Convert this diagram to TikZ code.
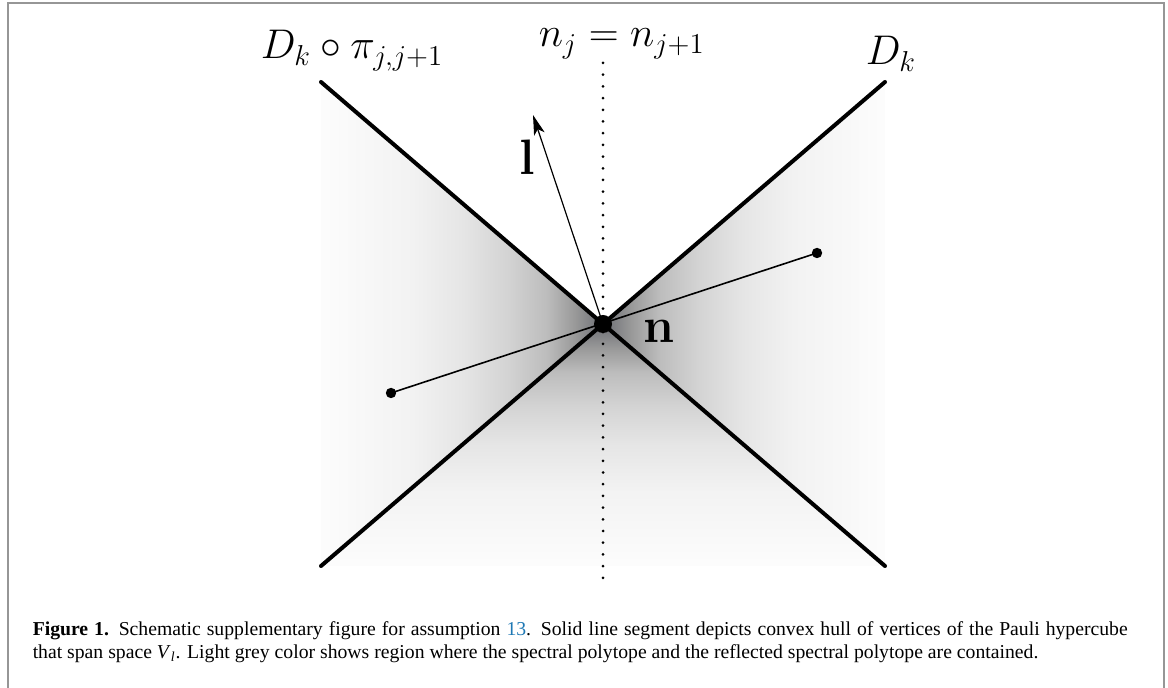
\documentclass[tikz,border=0pt]{standalone}
\usepackage[no-math]{fontspec}
\usetikzlibrary{arrows.meta}
\newfontfamily\capfont{Liberation Serif}

\definecolor{shadecore}{RGB}{108,110,116}
\definecolor{framegrey}{RGB}{150,150,150}
\definecolor{reflink}{RGB}{30,120,180}

% grey fading away from the vertex
\pgfdeclarehorizontalshading{wedgeleft}{100bp}{color(0bp)=(black!1); color(25bp)=(black!1);
  color(41bp)=(black!5); color(50bp)=(black!10); color(58bp)=(black!17);
  color(65bp)=(black!26); color(70bp)=(black!40);
  color(75bp)=(shadecore); color(100bp)=(shadecore)}
\pgfdeclarehorizontalshading{wedgeright}{100bp}{color(0bp)=(shadecore); color(25bp)=(shadecore);
  color(30bp)=(black!40); color(35bp)=(black!26); color(42bp)=(black!17);
  color(50bp)=(black!10); color(59bp)=(black!5);
  color(75bp)=(black!1); color(100bp)=(black!1)}
\pgfdeclareverticalshading{wedgebottom}{100bp}{color(0bp)=(black!1); color(25bp)=(black!1);
  color(41bp)=(black!5); color(50bp)=(black!10); color(58bp)=(black!17);
  color(65bp)=(black!26); color(70bp)=(black!40);
  color(75bp)=(shadecore); color(100bp)=(shadecore)}

\tikzset{
  every picture/.style={line width=0.75pt},
  bigmath/.style={inner sep=0pt, font=\fontsize{21}{25}\selectfont},
  xline/.style={line width=2pt, line cap=round},
  hull/.style={line width=0.8pt},
}

\begin{document}
\begin{tikzpicture}[x=0.5pt,y=-0.5pt]
  \useasboundingbox (0,0) rectangle (1168,688);
  \draw[framegrey, line width=1pt] (8,700) |- (1164,3) -- (1164,700);

  % --- the two hyperplanes ---
  \coordinate (n) at (603,324);
  \coordinate (tl) at (321,82);
  \coordinate (tr) at (885,82);
  \coordinate (bl) at (321,566);
  \coordinate (br) at (885,566);

  \shade[shading=wedgeleft] (tl) -- (n) -- (bl) -- cycle;
  \shade[shading=wedgeright] (tr) -- (n) -- (br) -- cycle;
  \shade[shading=wedgebottom] (bl) -- (n) -- (br) -- cycle;

  \coordinate (ptop) at (603,63);
  \coordinate (pbot) at (603,581);
  \draw[line width=1.5pt, line cap=round, dash pattern=on 0pt off 5.85pt] (ptop) -- (pbot);

  \draw[xline] (tl) -- (br);
  \draw[xline] (tr) -- (bl);

  % --- segment and direction ---
  \coordinate (va) at (391,393);
  \coordinate (vb) at (817,253);
  \coordinate (ltip) at (533,115);
  \draw[hull] (va) -- (vb);
  \draw[line width=0.6pt, -{Stealth[length=10pt,width=5.5pt,inset=2.5pt]}] (n) -- (ltip);
  \foreach \p in {va,vb}
    \fill (\p) circle (2.6pt);
  \fill (n) circle (4.5pt);

  % --- labels ---
  \node[bigmath, anchor=base west] (lblpi) at (260,59) {$D_k\circ\pi_{j,j+1}$};
  \node[bigmath, anchor=base west] (lbleq) at (538,47) {$n_j=n_{j+1}$};
  \node[bigmath, anchor=base west] (lbldk) at (865,65) {$D_k$};
  \node[bigmath, font=\fontsize{23}{27}\selectfont, anchor=base west] (lbll) at (519,175) {$\mathbf{l}$};
  \node[bigmath, font=\fontsize{29}{34}\selectfont, anchor=base west] (lbln) at (643,343) {$\mathbf{n}$};

  \node[anchor=north west, inner sep=0pt, text width=547.5pt, align=justify,
        font=\capfont\fontsize{9.85}{11.6}\selectfont] (caption) at (32,621)
    {{\bfseries Figure 1.} Schematic supplementary figure for assumption
     {\color{reflink}13}. Solid line segment depicts convex hull of vertices of the
     Pauli hypercube\linebreak that span space \textit{V}\textsubscript{\textit{l}}.
     Light grey color shows region where the spectral polytope and the reflected
     spectral polytope are contained.};
\end{tikzpicture}
\end{document}
